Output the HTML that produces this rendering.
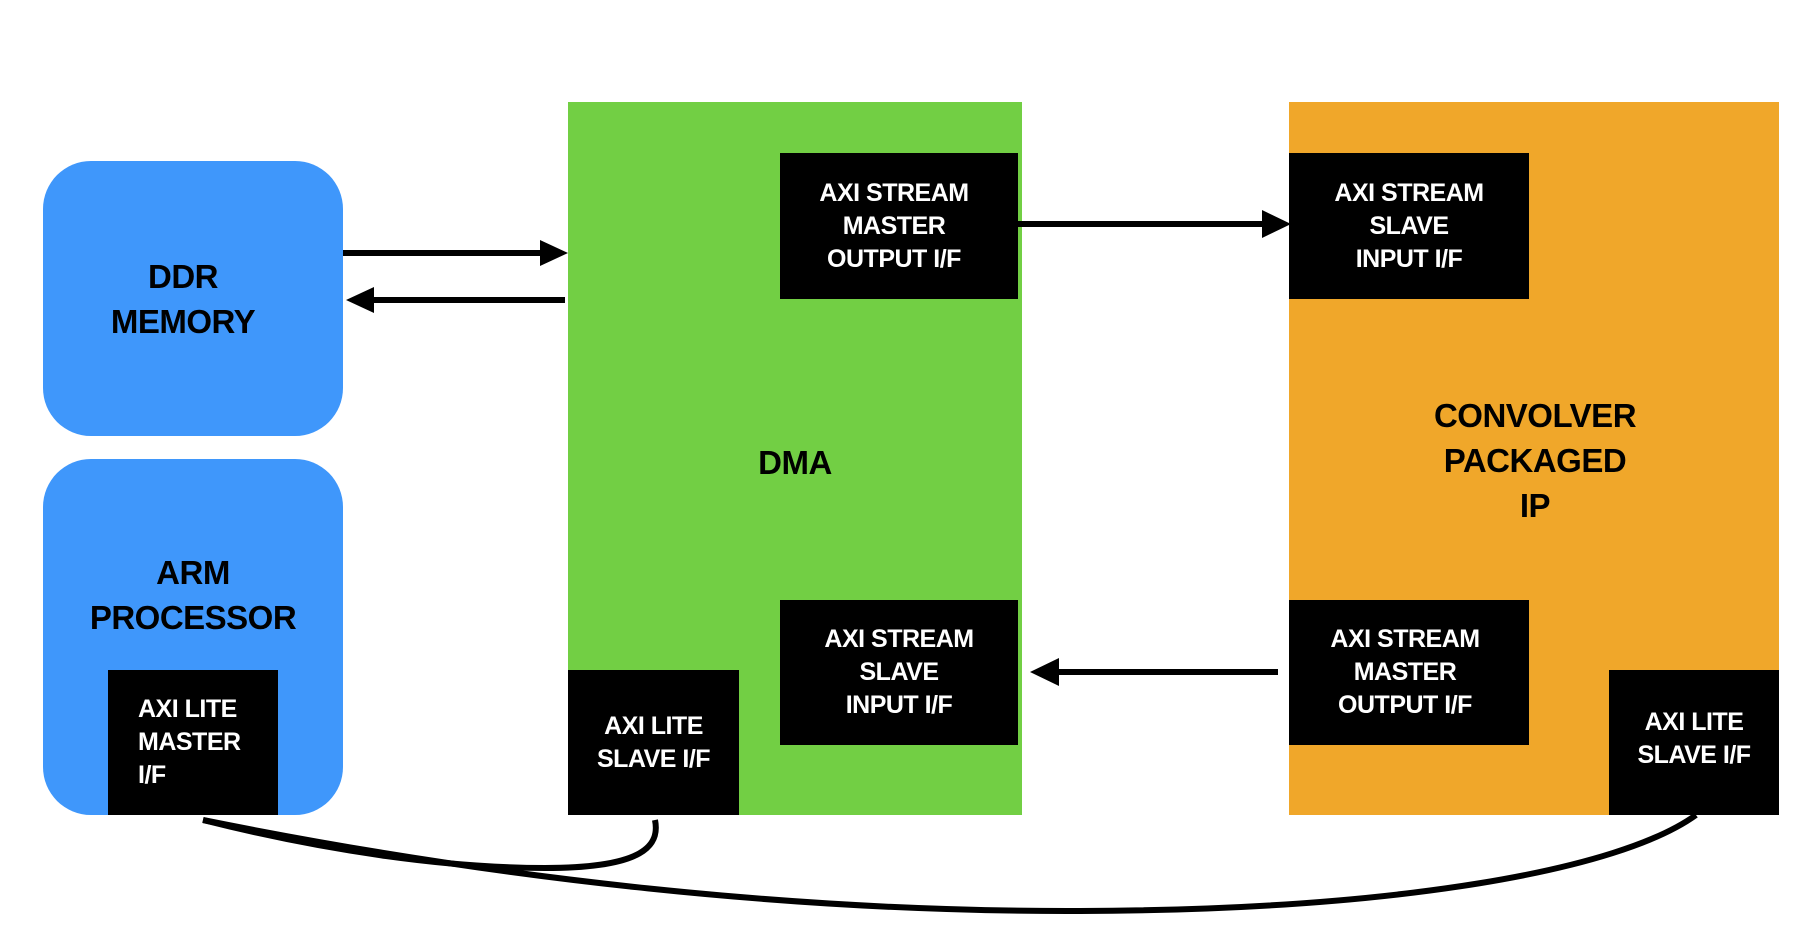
<!DOCTYPE html>
<html><head><style>
body{margin:0;width:1819px;height:928px;background:#fff;position:relative;overflow:hidden;font-family:"Liberation Sans",sans-serif;font-weight:bold}
div{position:absolute;box-sizing:border-box}
.c{display:flex;align-items:center;justify-content:center;text-align:center}
.blk{background:#000;color:#fff;font-size:25px;line-height:33px;letter-spacing:-0.5px}
.big{font-size:33px;line-height:45px;color:#000;letter-spacing:-0.5px}
</style></head><body>
<div class="c big" style="left:43px;top:161px;width:300px;height:275px;background:#3f97fb;border-radius:48px;padding-right:20px">DDR<br>MEMORY</div>
<div style="left:43px;top:459px;width:300px;height:356px;background:#3f97fb;border-radius:48px"></div>
<div class="c big" style="left:43px;top:545px;width:300px;height:100px">ARM<br>PROCESSOR</div>
<div class="c blk" style="left:108px;top:670px;width:170px;height:145px;justify-content:flex-start;padding-left:30px;text-align:left">AXI LITE<br>MASTER<br>I/F</div>
<div style="left:568px;top:102px;width:454px;height:713px;background:#72cf44"></div>
<div class="c big" style="left:735px;top:437px;width:120px;height:50px">DMA</div>
<div class="c blk" style="left:780px;top:153px;width:238px;height:146px;padding-right:10px">AXI STREAM<br>MASTER<br>OUTPUT I/F</div>
<div class="c blk" style="left:780px;top:600px;width:238px;height:145px">AXI STREAM<br>SLAVE<br>INPUT I/F</div>
<div class="c blk" style="left:568px;top:670px;width:171px;height:145px">AXI LITE<br>SLAVE I/F</div>
<div style="left:1289px;top:102px;width:490px;height:713px;background:#f0a72a"></div>
<div class="c big" style="left:1410px;top:390px;width:250px;height:140px">CONVOLVER<br>PACKAGED<br>IP</div>
<div class="c blk" style="left:1289px;top:153px;width:240px;height:146px">AXI STREAM<br>SLAVE<br>INPUT I/F</div>
<div class="c blk" style="left:1289px;top:600px;width:240px;height:145px;padding-right:8px">AXI STREAM<br>MASTER<br>OUTPUT I/F</div>
<div class="c blk" style="left:1609px;top:670px;width:170px;height:145px;padding-bottom:8px">AXI LITE<br>SLAVE I/F</div>
<svg width="1819" height="928" style="position:absolute;left:0;top:0">
<g stroke="#000" stroke-width="6" fill="none">
<line x1="343" y1="253" x2="545" y2="253"/>
<line x1="565" y1="300" x2="370" y2="300"/>
<line x1="1018" y1="224" x2="1265" y2="224"/>
<line x1="1278" y1="672" x2="1058" y2="672"/>
<path d="M203 820 C 330 852, 450 868, 545 868 C 645 868, 660 845, 655 820"/>
<path d="M203 820 C 500 880, 800 912, 1080 911 C 1400 910, 1620 870, 1696 815"/>
</g>
<g fill="#000">
<polygon points="568,253 540,240 540,266"/>
<polygon points="346,300 374,287 374,313"/>
<polygon points="1291,224 1262,210 1262,238"/>
<polygon points="1030,672 1059,658 1059,686"/>
</g>
</svg>
</body></html>
